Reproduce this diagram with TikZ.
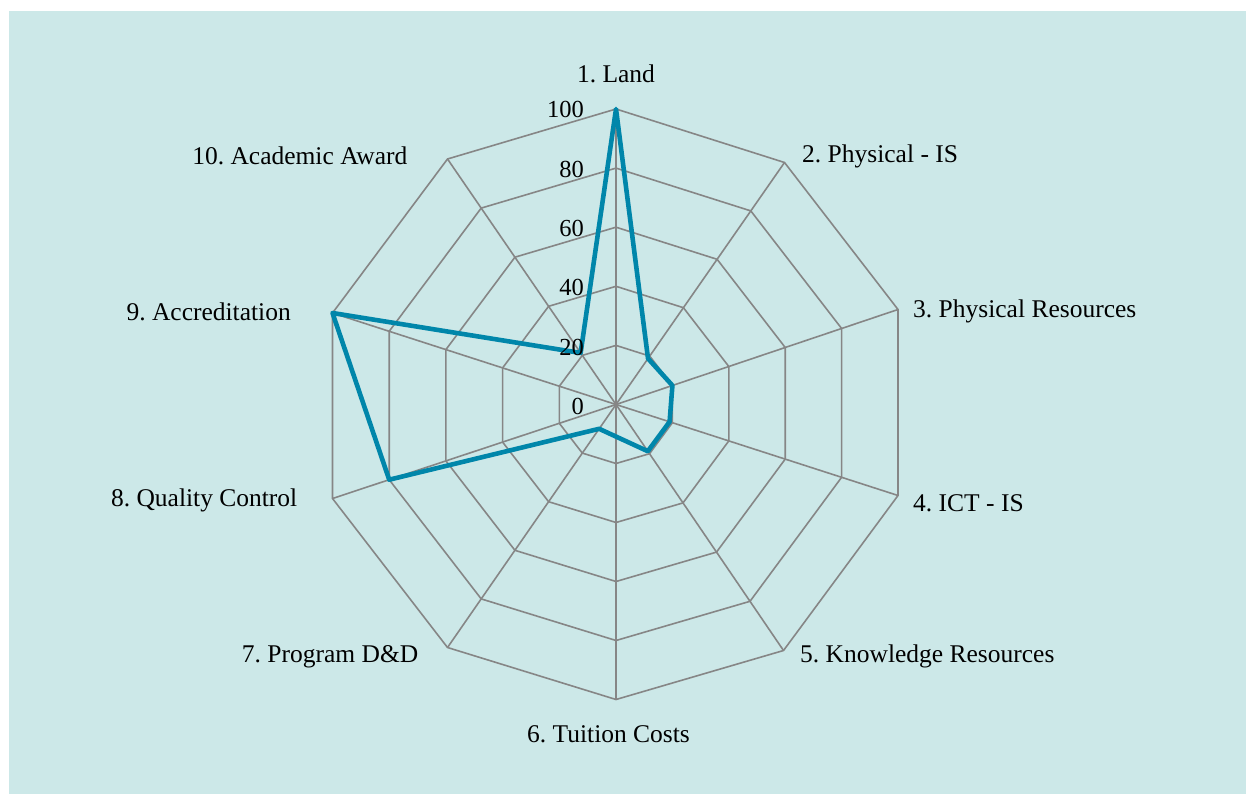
\documentclass[tikz,border=0pt]{standalone}
\usepackage{fontspec}
\setmainfont{Liberation Serif}
\usetikzlibrary{calc}
\definecolor{bgc}{RGB}{204,232,232}
\definecolor{gridc}{RGB}{134,134,134}
\definecolor{datac}{RGB}{0,134,170}
\frenchspacing
\begin{document}
\begin{tikzpicture}[x=1pt,y=-1pt,
  grid/.style={draw=gridc,line width=1.6pt},
  series/.style={draw=datac,line width=4.6pt,line join=round},
  axlab/.style={font=\fontsize{25.5}{30}\selectfont,inner sep=0pt},
  ticklab/.style={font=\fontsize{24.5}{28}\selectfont,inner sep=0pt,anchor=base east}]
\useasboundingbox (0,0) rectangle (1246,794);
\fill[bgc] (9,11) rectangle (1246,794);
\coordinate (c) at (616,404.5);
\coordinate (v1) at (616,109);
\coordinate (v2) at (784.5,162.5);
\coordinate (v3) at (898,309.5);
\coordinate (v4) at (898,495.5);
\coordinate (v5) at (783.5,650.5);
\coordinate (v6) at (616,699.5);
\coordinate (v7) at (447.5,647.5);
\coordinate (v8) at (332.5,498.5);
\coordinate (v9) at (332.5,313);
\coordinate (v10) at (447.5,159);
% rings
\foreach \f in {0.2,0.4,0.6,0.8,1}{
  \draw[grid] ($(c)!\f!(v1)$) -- ($(c)!\f!(v2)$) -- ($(c)!\f!(v3)$) -- ($(c)!\f!(v4)$) -- ($(c)!\f!(v5)$)
    -- ($(c)!\f!(v6)$) -- ($(c)!\f!(v7)$) -- ($(c)!\f!(v8)$) -- ($(c)!\f!(v9)$) -- ($(c)!\f!(v10)$) -- cycle;
}
% spokes
\foreach \i in {1,...,10}{ \draw[grid] (c) -- (v\i); }
% series
\draw[series] ($(c)!1!(v1)$) -- ($(c)!0.19!(v2)$) -- ($(c)!0.20!(v3)$) -- ($(c)!0.19!(v4)$)
  -- ($(c)!0.19!(v5)$) -- ($(c)!0.10!(v7)$) -- ($(c)!0.80!(v8)$) -- ($(c)!1!(v9)$)
  -- ($(c)!0.21!(v10)$) -- cycle;
% tick labels
\node[ticklab] (t0) at (584,414) {0};
\node[ticklab] (t20) at (584,355) {20};
\node[ticklab] (t40) at (584,295.6) {40};
\node[ticklab] (t60) at (584,236.4) {60};
\node[ticklab] (t80) at (584,177.2) {80};
\node[ticklab] (t100) at (584,118) {100};
% axis labels
\node[axlab,anchor=base] (l1) at (616,83) {1. Land};
\node[axlab,anchor=base west] (l2) at (802,163) {2. Physical - IS};
\node[axlab,anchor=base west] (l3) at (913,317) {3. Physical Resources};
\node[axlab,anchor=base west] (l4) at (913,511) {4. ICT - IS};
\node[axlab,anchor=base west] (l5) at (800,662) {5. Knowledge Resources};
\node[axlab,anchor=base] (l6) at (608.5,742) {6. Tuition Costs};
\node[axlab,anchor=base east] (l7) at (418.5,662) {7. Program D\&D};
\node[axlab,anchor=base east] (l8) at (297.5,506) {8. Quality Control};
\node[axlab,anchor=base east] (l9) at (291,320) {9. Accreditation};
\node[axlab,anchor=base east] (l10) at (407.5,165) {10. Academic Award};
\end{tikzpicture}
\end{document}
